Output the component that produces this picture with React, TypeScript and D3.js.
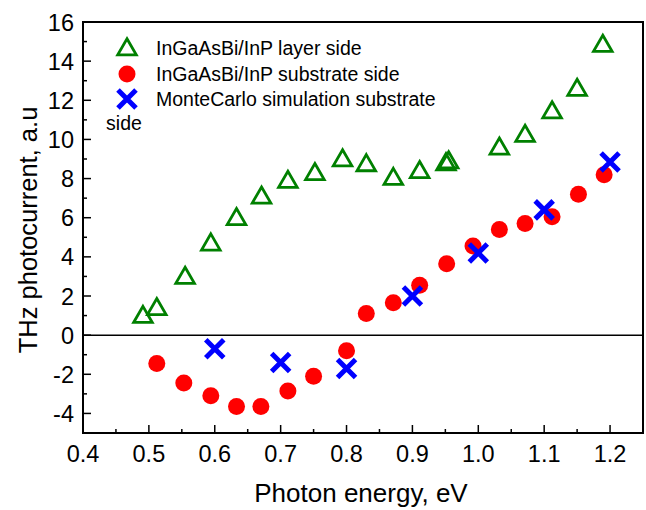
import React, { useRef, useEffect } from 'react';
import * as d3 from 'd3';

// photon energy (eV) / photocurrent (a.u.)
const layerX = [0.491, 0.512, 0.555, 0.594, 0.633, 0.671, 0.711, 0.752, 0.794, 0.830, 0.871, 0.911, 0.951, 0.955, 1.032, 1.071, 1.112, 1.150, 1.189];
const layerY = [1.0, 1.4, 3.0, 4.7, 6.0, 7.1, 7.9, 8.3, 9.0, 8.75, 8.05, 8.4, 8.8, 8.9, 9.6, 10.25, 11.45, 12.6, 14.85];

const subX = [0.512, 0.553, 0.594, 0.633, 0.670, 0.711, 0.750, 0.800, 0.830, 0.871, 0.911, 0.952, 0.992, 1.032, 1.071, 1.112, 1.152, 1.191];
const subY = [-1.45, -2.45, -3.1, -3.65, -3.65, -2.85, -2.1, -0.8, 1.1, 1.65, 2.55, 3.65, 4.55, 5.4, 5.7, 6.05, 7.2, 8.2];

const mcX = [0.6, 0.7, 0.8, 0.9, 1.0, 1.1, 1.2];
const mcY = [-0.7, -1.4, -1.7, 2.0, 4.2, 6.4, 8.85];

const xTicks = [0.4, 0.5, 0.6, 0.7, 0.8, 0.9, 1.0, 1.1, 1.2];
const yTicks = [-4, -2, 0, 2, 4, 6, 8, 10, 12, 14, 16];

const legendLabels = ['InGaAsBi/InP layer side', 'InGaAsBi/InP substrate side', 'MonteCarlo simulation substrate'];

export default function App() {
    const chartRef = useRef<SVGSVGElement>(null);
    const width = 646, height = 510;

    useEffect(() => {
        const margin = { top: 22, right: 3, bottom: 77, left: 83 };
        const svg = d3.select(chartRef.current);
        svg.selectAll('*').remove();

        const x = d3.scaleLinear().domain([0.4, 1.25]).range([margin.left, width - margin.right]);
        const y = d3.scaleLinear().domain([-5, 16]).range([height - margin.bottom, margin.top]);

        const font = 'Arial, "Liberation Sans", sans-serif';

        // minor ticks
        const xMinor = d3.range(0.45, 1.25, 0.1);
        const yMinor = d3.range(-5, 16, 2);
        svg.append('g').selectAll('line').data(xMinor).join('line')
            .attr('x1', d => x(d)).attr('x2', d => x(d))
            .attr('y1', y(-5)).attr('y2', y(-5) - 4)
            .attr('stroke', '#000').attr('stroke-width', 1.5);
        svg.append('g').selectAll('line').data(yMinor).join('line')
            .attr('x1', x(0.4)).attr('x2', x(0.4) + 4)
            .attr('y1', d => y(d)).attr('y2', d => y(d))
            .attr('stroke', '#000').attr('stroke-width', 1.5);

        // major ticks
        svg.append('g').selectAll('line').data(xTicks).join('line')
            .attr('x1', d => x(d)).attr('x2', d => x(d))
            .attr('y1', y(-5)).attr('y2', y(-5) - 8)
            .attr('stroke', '#000').attr('stroke-width', 1.5);
        svg.append('g').selectAll('line').data(yTicks).join('line')
            .attr('x1', x(0.4)).attr('x2', x(0.4) + 8)
            .attr('y1', d => y(d)).attr('y2', d => y(d))
            .attr('stroke', '#000').attr('stroke-width', 1.5);

        // tick labels
        svg.append('g').selectAll('text').data(xTicks).join('text')
            .attr('x', d => x(d)).attr('y', 462)
            .attr('text-anchor', 'middle')
            .style('font-family', font).style('font-size', '23.5px')
            .text(d => d.toFixed(1));
        svg.append('g').selectAll('text').data(yTicks).join('text')
            .attr('x', 74).attr('y', d => y(d) + 8.5)
            .attr('text-anchor', 'end')
            .style('font-family', font).style('font-size', '23.5px')
            .text(d => d);

        // zero line
        svg.append('line')
            .attr('x1', x(0.4)).attr('x2', x(1.25))
            .attr('y1', y(0)).attr('y2', y(0))
            .attr('stroke', '#000').attr('stroke-width', 1.5);

        // frame
        svg.append('rect')
            .attr('x', x(0.4)).attr('y', y(16))
            .attr('width', x(1.25) - x(0.4)).attr('height', y(-5) - y(16))
            .attr('fill', 'none').attr('stroke', '#000').attr('stroke-width', 2);

        const tri = d3.symbol().type(d3.symbolTriangle).size(150);
        const cross = (s: number) => `M${-s},${-s}L${s},${s}M${-s},${s}L${s},${-s}`;

        // substrate side
        svg.append('g').selectAll('circle').data(subX).join('circle')
            .attr('cx', d => x(d)).attr('cy', (d, i) => y(subY[i]))
            .attr('r', 8.5).attr('fill', '#ff0000');

        // layer side
        svg.append('g').selectAll('path').data(layerX).join('path')
            .attr('transform', (d, i) => `translate(${x(d)},${y(layerY[i]) + 1.5})`)
            .attr('d', tri())
            .attr('fill', 'none').attr('stroke', '#008000').attr('stroke-width', 2.8);

        // monte carlo
        svg.append('g').selectAll('path').data(mcX).join('path')
            .attr('transform', (d, i) => `translate(${x(d)},${y(mcY[i])})`)
            .attr('d', cross(9))
            .attr('fill', 'none').attr('stroke', '#0000ff').attr('stroke-width', 5);

        // legend
        const lg = svg.append('g');
        const ly = [48, 74, 99];
        lg.append('path').attr('transform', `translate(127,${ly[0] + 1.5})`).attr('d', tri())
            .attr('fill', 'none').attr('stroke', '#008000').attr('stroke-width', 2.8);
        lg.append('circle').attr('cx', 127).attr('cy', ly[1]).attr('r', 8.5).attr('fill', '#ff0000');
        lg.append('path').attr('transform', `translate(127,${ly[2]})`).attr('d', cross(9))
            .attr('fill', 'none').attr('stroke', '#0000ff').attr('stroke-width', 5);
        lg.selectAll('text.lab').data(legendLabels).join('text')
            .attr('class', 'lab')
            .attr('x', 156).attr('y', (d, i) => ly[i] + 7)
            .style('font-family', font).style('font-size', '19.5px')
            .text(d => d);
        lg.append('text').attr('x', 124).attr('y', 130).attr('text-anchor', 'middle')
            .style('font-family', font).style('font-size', '19.5px').text('side');

        // axis titles
        svg.append('text')
            .attr('x', 361).attr('y', 502)
            .attr('text-anchor', 'middle')
            .style('font-family', font).style('font-size', '26px')
            .text('Photon energy, eV');
        svg.append('text')
            .attr('transform', `translate(37,230) rotate(-90)`)
            .attr('text-anchor', 'middle')
            .style('font-family', font).style('font-size', '25.5px')
            .text('THz photocurrent, a.u');
    }, []);

    return (
        <svg width={width} height={height} ref={chartRef} style={{ position: 'absolute', left: 0, top: 0, background: '#fff' }} />
    );
}
